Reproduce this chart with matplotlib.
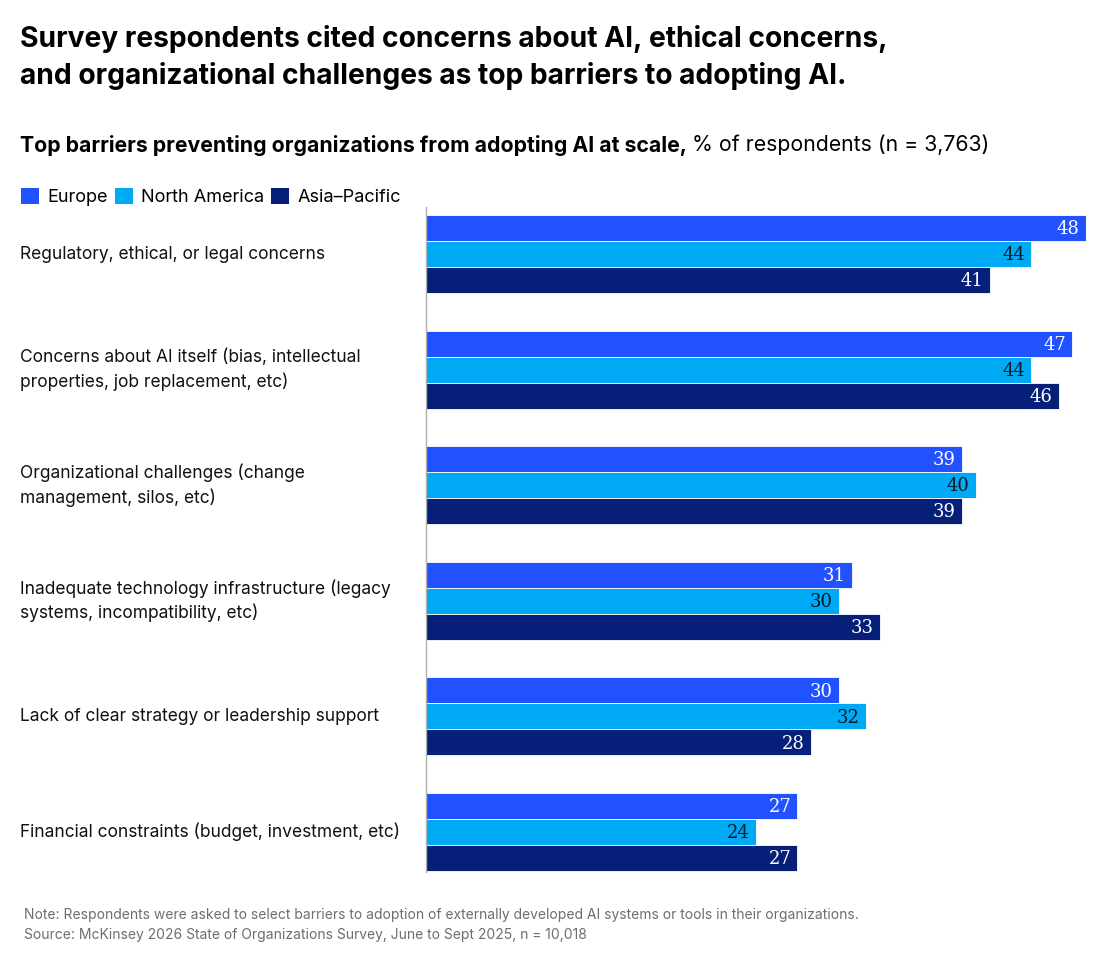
import numpy as np
import matplotlib
matplotlib.use('Agg')
import matplotlib.pyplot as plt
from matplotlib.patches import Patch

categories = [
    'Regulatory, ethical, or legal concerns',
    'Concerns about AI itself (bias, intellectual\nproperties, job replacement, etc)',
    'Organizational challenges (change\nmanagement, silos, etc)',
    'Inadequate technology infrastructure (legacy\nsystems, incompatibility, etc)',
    'Lack of clear strategy or leadership support',
    'Financial constraints (budget, investment, etc)',
]
series_names = ['Europe', 'North America', 'Asia\u2013Pacific']
europe = [48, 47, 39, 31, 30, 27]
north_america = [44, 44, 40, 30, 32, 24]
asia_pacific = [41, 46, 39, 33, 28, 27]

colors = ['#2251FF', '#00A9F4', '#061F79']
label_colors = ['white', '#051C2C', 'white']

plt.rcParams['font.family'] = ['Inter', 'DejaVu Sans']

W, H = 1100, 963
fig = plt.figure(figsize=(W / 100, H / 100), dpi=100)

def fx(px):
    return px / W

def fy(py):
    return 1 - py / H

# axes: left edge at 426px, 48 reaches 1086px, vertical 207..872px
ax = fig.add_axes([fx(426), fy(872), fx(1086) - fx(426), (872 - 207) / H])
ax.set_xlim(0, 48)
ax.set_ylim(5.346, -0.407)

bar_h = 26 / 115.6
y = np.arange(len(categories))
for k, vals in enumerate([europe, north_america, asia_pacific]):
    pos = y + (k - 1) * bar_h
    ax.barh(pos, vals, height=bar_h, color=colors[k], edgecolor='white', linewidth=0.6)
    for p, v in zip(pos, vals):
        ax.text(v - 0.45, p + 0.01, str(v), ha='right', va='center', color=label_colors[k],
                fontsize=13, family=['DejaVu Serif'])

for spine in ['top', 'right', 'bottom']:
    ax.spines[spine].set_visible(False)
ax.spines['left'].set_color('#B0B0B0')
ax.spines['left'].set_linewidth(1)
ax.set_xticks([])
ax.set_yticks([])

lab_x = (20 - 426) / 660
for i, c in enumerate(categories):
    ax.text(lab_x, i, c, transform=ax.get_yaxis_transform(), ha='left', va='center',
            fontsize=12.5, color='#111111', linespacing=1.4)

# titles
fig.text(fx(20), fy(39), 'Survey respondents cited concerns about AI, ethical concerns,',
         fontsize=20.3, fontweight='bold', va='center', ha='left', color='black')
fig.text(fx(20), fy(76), 'and organizational challenges as top barriers to adopting AI.',
         fontsize=20.3, fontweight='bold', va='center', ha='left', color='black')

sub1 = fig.text(fx(20), fy(145), 'Top barriers preventing organizations from adopting AI at scale, ',
                fontsize=15.3, fontweight='bold', va='center', ha='left', color='black')
fig.canvas.draw()
bb = sub1.get_window_extent(renderer=fig.canvas.get_renderer())
fig.text(bb.x1 / W, fy(145), '% of respondents (n = 3,763)',
         fontsize=15.3, va='center', ha='left', color='black')

handles = [Patch(facecolor=c, edgecolor='none') for c in colors]
fig.legend(handles, series_names, ncol=3, loc='center left',
           bbox_to_anchor=(fx(21), fy(197)), frameon=False, fontsize=13,
           handlelength=1.0, handleheight=1.0, handletextpad=0.45,
           columnspacing=0.4, borderpad=0, borderaxespad=0)

fig.text(fx(24), fy(915), 'Note: Respondents were asked to select barriers to adoption of externally '
         'developed AI systems or tools in their organizations.',
         fontsize=10, color='#6E6E6E', va='center', ha='left')
fig.text(fx(24), fy(935), 'Source: McKinsey 2026 State of Organizations Survey, June to Sept 2025, n = 10,018',
         fontsize=10, color='#6E6E6E', va='center', ha='left')

fig.savefig('out.png', dpi=100, facecolor='white')
